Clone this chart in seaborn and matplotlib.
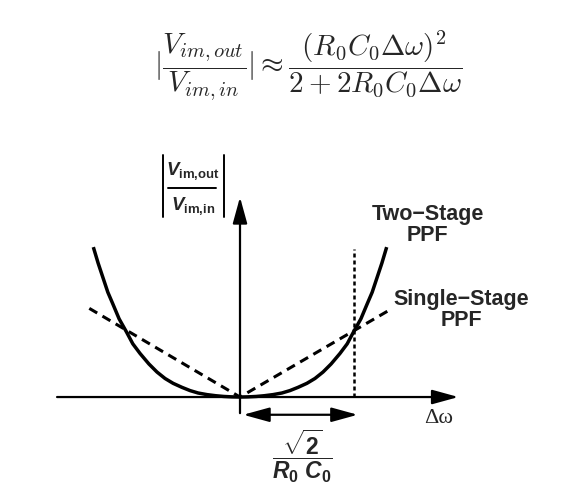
import matplotlib
matplotlib.use('Agg')
import matplotlib.pyplot as plt
import seaborn as sns

# normalised frequency offset (R0*C0*dw) and image-rejection magnitude
two_stage_x = [-1.82, -1.76, -1.70, -1.64, -1.58, -1.50, -1.41, -1.33, -1.24, -1.13, -1.03,
               -0.93, -0.83, -0.72, -0.62, -0.52, -0.41, -0.30, -0.20, -0.10, 0.0,
               0.10, 0.20, 0.30, 0.41, 0.52, 0.62, 0.72, 0.83, 0.93, 1.03,
               1.13, 1.24, 1.33, 1.41, 1.50, 1.58, 1.64, 1.70, 1.76, 1.82]
two_stage_y = [1.86, 1.66, 1.48, 1.30, 1.16, 0.97, 0.81, 0.66, 0.54, 0.41, 0.31,
               0.23, 0.17, 0.12, 0.08, 0.05, 0.03, 0.016, 0.007, 0.002, 0.0,
               0.002, 0.007, 0.016, 0.03, 0.05, 0.08, 0.12, 0.17, 0.23, 0.31,
               0.41, 0.54, 0.66, 0.81, 0.97, 1.16, 1.30, 1.48, 1.66, 1.86]
single_stage_x = [-1.87, 0.0, 1.89]
single_stage_y = [1.10, 0.0, 1.10]
cutoff_x = [1.414, 1.414]
cutoff_y = [0.0, 1.84]

sns.set_style('white')
plt.rcParams['mathtext.fontset'] = 'custom'
plt.rcParams['mathtext.rm'] = 'Liberation Sans:bold'
plt.rcParams['mathtext.bf'] = 'Liberation Sans:bold'
plt.rcParams['mathtext.it'] = 'Liberation Sans:italic:bold'

fig = plt.figure(figsize=(5.61, 5.01), dpi=100)
ax = fig.add_axes([0, 0, 1, 1])
ax.set_xlim(-2.978, 3.983)
ax.set_ylim(-1.290, 4.926)
ax.axis('off')

sns.lineplot(x=two_stage_x, y=two_stage_y, ax=ax, color='black', lw=2.5,
             sort=False, estimator=None, solid_capstyle='butt')
sns.lineplot(x=single_stage_x, y=single_stage_y, ax=ax, color='black', lw=2.2,
             sort=False, estimator=None, linestyle=(0, (3, 2)))
sns.lineplot(x=cutoff_x, y=cutoff_y, ax=ax, color='black', lw=1.8,
             sort=False, estimator=None, linestyle=(0, (1.6, 1.2)))

# axes with arrow heads
head = '-|>,head_length=0.8,head_width=0.22'
ax.annotate('', xy=(2.71, 0), xytext=(-2.27, 0),
            arrowprops=dict(arrowstyle=head, color='black', lw=1.6,
                            mutation_scale=20, shrinkA=0, shrinkB=0))
ax.annotate('', xy=(0, 2.48), xytext=(0, -0.2),
            arrowprops=dict(arrowstyle=head, color='black', lw=1.6,
                            mutation_scale=20, shrinkA=0, shrinkB=0))
ax.annotate('', xy=(1.46, -0.22), xytext=(0.04, -0.22),
            arrowprops=dict(arrowstyle='<|-|>,head_length=0.8,head_width=0.22',
                            color='black', lw=1.6, mutation_scale=20,
                            shrinkA=0, shrinkB=0))

ax.text(0.84, 4.12,
        r'$|\dfrac{V_{im,out}}{V_{im,in}}| \approx \dfrac{(R_0C_0\Delta\omega)^2}{2+2R_0C_0\Delta\omega}$',
        fontsize=21, math_fontfamily='cm', ha='center', va='center')

# |V_im,out / V_im,in| label next to the vertical axis
ax.text(-0.585, 2.80, r'$V_{\mathrm{im{,}out}}$', fontsize=13.5, ha='center', va='center')
ax.text(-0.585, 2.37, r'$V_{\mathrm{im{,}in}}$', fontsize=13.5, ha='center', va='center')
ax.plot([-0.89, -0.30], [2.59, 2.59], color='black', lw=1.4)
ax.plot([-0.955, -0.955], [2.23, 3.00], color='black', lw=1.4)
ax.plot([-0.198, -0.198], [2.23, 3.00], color='black', lw=1.4)

ax.text(2.33, 2.13, 'Two\u2212Stage\nPPF', fontsize=15.5, fontweight='bold',
        family='Liberation Sans', ha='center', va='center', linespacing=1.0)
ax.text(2.75, 1.08, 'Single\u2212Stage\nPPF', fontsize=15.5, fontweight='bold',
        family='Liberation Sans', ha='center', va='center', linespacing=1.0)
ax.text(2.46, -0.27, '\u0394\u03c9', fontsize=16, family='Liberation Serif',
        ha='center', va='center')
ax.text(0.78, -0.73, r'$\dfrac{\sqrt{2}}{R_0\ C_0}$', fontsize=16.5,
        ha='center', va='center')

fig.savefig('out.png', dpi=100)
